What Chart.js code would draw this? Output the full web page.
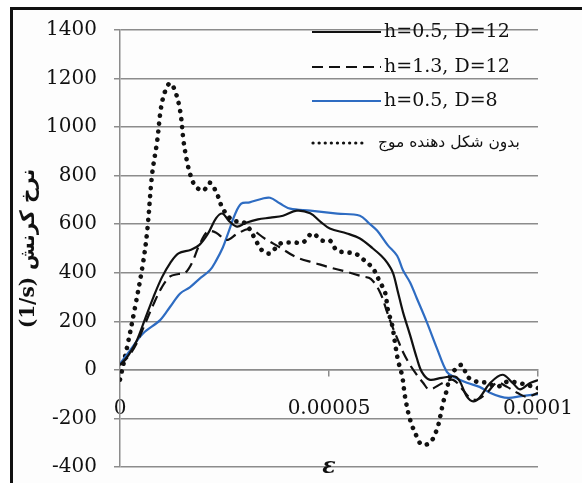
<!DOCTYPE html>
<html>
<head>
<meta charset="utf-8">
<script src="https://cdn.jsdelivr.net/npm/chart.js@4"></script>
<style>
  html, body { margin: 0; padding: 0; background: #fff; overflow: hidden; }
  #wrap { position: relative; width: 582px; height: 483px; overflow: hidden; }
  #frame { position: absolute; left: 10px; top: 7px; width: 600px; height: 500px;
           border-left: 3px solid #111; border-top: 3px solid #111; background: #fdfdfd; }
  canvas { position: absolute; left: 0; top: 0; }
</style>
</head>
<body>
<div id="wrap">
  <div id="frame"></div>
  <!-- canvas is a bit larger than the window so the tick-label overflow falls outside the view -->
  <canvas id="glapharea" width="620" height="510"></canvas>
</div>
<script>
// x values are strain in units of 1e-6, y values are strain rate (1/s)
var seriesLabels = ["h=0.5, D=12", "h=1.3, D=12", "h=0.5, D=8", "بدون شکل دهنده موج"];

var xSolid = [0, 2, 4, 6, 8, 10, 12, 14, 17, 19, 21, 23, 24.5, 26, 28, 30, 33, 36, 39, 42.3, 45.5, 48, 50.2,
  54.3, 57.4, 60.5, 62.5, 64, 65.3, 66.5, 67.7, 69.4, 71, 72.2, 74, 77, 80.5, 83, 84.5, 86, 88.5, 91.5, 94, 95.7, 98, 100];
var ySolid = [20, 60, 120, 210, 300, 380, 440, 480, 495, 515, 560, 625, 644, 615, 590, 605, 620, 627, 635, 656, 645, 610, 582,
  562, 541, 500, 470, 440, 400, 320, 238, 143, 49, -8, -40, -33, -30, -110, -130, -115, -55, -20, -55, -80, -55, -42];

var xDashed = [0, 2, 4, 6, 8, 10, 12, 14, 15.6, 17.2, 19, 21, 23, 25.5, 28, 31, 34.7, 38.3, 42.3, 46.7, 50.2, 54, 58, 60,
  62.2, 63.9, 65, 66.3, 67.7, 69.4, 71, 72.5, 74, 77.3, 79.7, 82, 83.7, 85.4, 87.8, 90.2, 92.6, 95, 97.4, 100];
var yDashed = [20, 55, 110, 190, 270, 340, 385, 395, 400, 440, 515, 570, 565, 535, 560, 580, 540, 504, 463, 440, 422, 405, 385, 375,
  320, 238, 185, 131, 74, 20, -20, -53, -80, -53, -41, -82, -115, -123, -94, -53, -70, -94, -111, -94];

var xBlue = [0, 2.4, 5.5, 9.6, 12, 14.4, 16.7, 19, 21.5, 23, 24.6, 26, 27.5, 29, 31, 34, 35.9, 38.3, 40.7, 45.5, 52, 57.4,
  59.5, 61.5, 64, 66.3, 67.7, 69.4, 71, 73.4, 75.8, 78.2, 80, 83, 86, 88.5, 91, 93, 96, 100];
var yBlue = [25, 80, 150, 205, 260, 315, 340, 375, 410, 450, 504, 570, 640, 685, 690, 705, 709, 685, 664, 656, 644, 635,
  605, 574, 515, 470, 410, 360, 295, 197, 90, -8, -30, -53, -70, -94, -110, -115, -108, -100];

var xDotted = [0, 1.7, 3.6, 5.5, 6.5, 7.7, 8.9, 9.8, 10.8, 12, 13.2, 14.4, 15.2, 16, 16.9, 18, 19.9, 21.5, 23.2, 24.6, 27,
  29.4, 31, 32.5, 34, 35.9, 38.3, 41.4, 43.8, 46, 48.3, 50.2, 51.9, 54.3, 56.2, 57.9, 60.5, 62.2, 63.4, 64.1, 65.1, 65.8,
  66.5, 67.5, 68.2, 69.4, 71, 72.2, 74.2, 75.8, 76.6, 77.3, 78.2, 78.9, 80.1, 81.8, 83.2, 85.4, 87.8, 90.2, 92.6, 95.7, 100];
var yDotted = [-40, 94, 258, 439, 570, 808, 943, 1078, 1148, 1181, 1148, 1066, 943, 861, 800, 758, 738, 771, 725, 664, 615,
  610, 580, 533, 492, 480, 520, 525, 525, 562, 533, 533, 492, 484, 480, 459, 418, 361, 320, 246, 185, 110,
  40, -25, -111, -205, -275, -308, -299, -246, -193, -135, -82, -29, 0, 20, -29, -49, -53, -70, -49, -55, -75];

var yTicks = [-400, 1400, 200];
var xTickValues = [0, 50, 100];
var xTickLabels = ["0", "0.00005", "0.0001"];
var yTitle = "(1/s) نرخ کرنش";
var xTitle = "ε";

function toPoints(xs, ys) {
    var pts = [];
    for (var i = 0; i < xs.length; i++) {
        pts.push({x: xs[i], y: ys[i]});
    }
    return pts;
}

var gridColor = "#8c8c8c";
var serif = "'DejaVu Serif', 'DejaVu Sans', serif";

// draws the legend box at the top right and the epsilon title
var extras = {
    id: "extras",
    afterDraw: function(chart) {
        var ctx = chart.ctx;
        var xs = chart.scales.x, ys = chart.scales.y;
        ctx.save();
        ctx.fillStyle = "#111";
        ctx.font = "italic bold 22px " + serif;
        ctx.textAlign = "center";
        ctx.textBaseline = "middle";
        ctx.fillText(xTitle, xs.getPixelForValue(50), ys.getPixelForValue(-400));

        var rowY = [32, 67, 101, 143];
        chart.data.datasets.forEach(function(ds, i) {
            var y = rowY[i];
            ctx.beginPath();
            ctx.strokeStyle = ds.borderColor;
            if (i == 3) {
                ctx.lineWidth = 3.2;
                ctx.lineCap = "round";
                ctx.setLineDash([0.1, 6]);
                ctx.moveTo(313, y);
                ctx.lineTo(362, y);
            } else {
                ctx.lineWidth = 2;
                ctx.lineCap = "butt";
                ctx.setLineDash(ds.borderDash || []);
                ctx.moveTo(312, y);
                ctx.lineTo(381, y);
            }
            ctx.stroke();
            ctx.setLineDash([]);
            ctx.textAlign = "left";
            if (i == 3) {
                ctx.font = "15.5px 'DejaVu Sans', sans-serif";
                ctx.fillText(ds.label, 378, y);
            } else {
                ctx.font = "19px " + serif;
                ctx.fillText(ds.label, 384, y);
            }
        });
        ctx.restore();
    }
};

var glapharea = document.getElementById("glapharea").getContext("2d");
var glaph = new Chart(glapharea, {
    type: "line",
    data: {
        datasets: [
            {
                label: seriesLabels[0],
                borderColor: "#111",
                borderWidth: 2.2,
                data: toPoints(xSolid, ySolid)
            }, {
                label: seriesLabels[1],
                borderColor: "#111",
                borderWidth: 2.2,
                borderDash: [11, 6],
                data: toPoints(xDashed, yDashed)
            }, {
                label: seriesLabels[2],
                borderColor: "#2e6cc2",
                borderWidth: 2.2,
                data: toPoints(xBlue, yBlue)
            }, {
                label: seriesLabels[3],
                borderColor: "#111",
                borderWidth: 4.6,
                borderDash: [0.1, 8],
                borderCapStyle: "round",
                data: toPoints(xDotted, yDotted)
            }
        ]
    },
    options: {
        responsive: false,
        animation: false,
        layout: { padding: { left: 0, right: 82, top: 30, bottom: 43 } },
        elements: {
            point: { radius: 0 },
            line: { tension: 0.35 }
        },
        plugins: { legend: { display: false }, tooltip: { enabled: false } },
        scales: {
            x: {
                type: "linear",
                position: { y: 0 },
                min: xTickValues[0],
                max: xTickValues[xTickValues.length - 1],
                afterBuildTicks: function(s) {
                    s.ticks = xTickValues.map(function(v) { return {value: v}; });
                },
                grid: { drawOnChartArea: false, drawTicks: true, tickLength: 6, color: gridColor, lineWidth: 1.5 },
                border: { display: true, color: gridColor, width: 1.5 },
                ticks: {
                    padding: 21,
                    maxRotation: 0,
                    autoSkip: false,
                    color: "#111",
                    font: { family: serif, size: 20 },
                    callback: function(v, i) { return xTickLabels[i]; }
                }
            },
            y: {
                min: yTicks[0],
                max: yTicks[1],
                afterFit: function(s) { s.width = 120; },
                grid: { color: gridColor, lineWidth: 1.5, tickLength: 6 },
                border: { color: gridColor, width: 1.5 },
                ticks: {
                    stepSize: yTicks[2],
                    padding: 17,
                    color: "#111",
                    font: { family: serif, size: 20 },
                    callback: function(v) { return String(v); }
                },
                title: {
                    display: true,
                    text: yTitle,
                    color: "#111",
                    font: { family: serif, size: 20, weight: "bold" },
                    padding: { top: 17, bottom: 0 }
                }
            }
        }
    },
    plugins: [extras]
});
</script>
</body>
</html>
